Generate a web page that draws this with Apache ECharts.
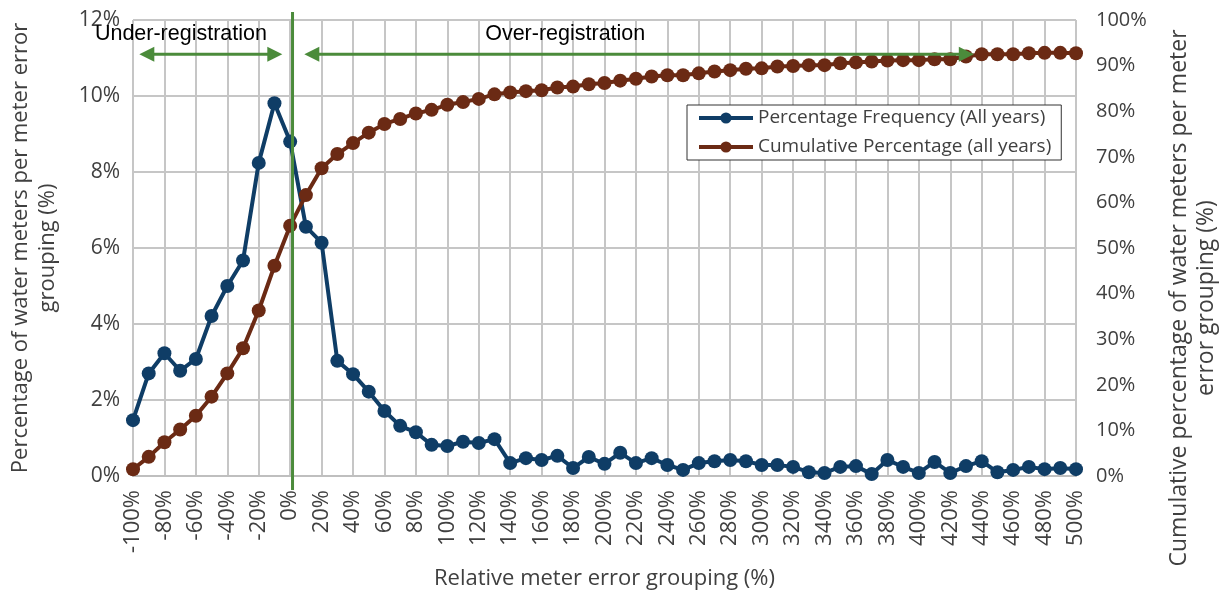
<!DOCTYPE html>
<html>
<head>
<meta charset="utf-8">
<script src="https://cdn.jsdelivr.net/npm/echarts/dist/echarts.min.js"></script>
<style>
  html, body { margin: 0; padding: 0; background: #fff; }
  #chartDom { width: 1226px; height: 591px; }
</style>
</head>
<body>
<div id="chartDom"></div>
<script>
// categories: relative meter error grouping
var categories = ['-100%', '-90%', '-80%', '-70%', '-60%', '-50%', '-40%', '-30%', '-20%', '-10%',
  '0%', '10%', '20%', '30%', '40%', '50%', '60%', '70%', '80%', '90%',
  '100%', '110%', '120%', '130%', '140%', '150%', '160%', '170%', '180%', '190%',
  '200%', '210%', '220%', '230%', '240%', '250%', '260%', '270%', '280%', '290%',
  '300%', '310%', '320%', '330%', '340%', '350%', '360%', '370%', '380%', '390%',
  '400%', '410%', '420%', '430%', '440%', '450%', '460%', '470%', '480%', '490%', '500%'];

// Percentage Frequency (All years), left axis
var freqAll = [1.47, 2.70, 3.23, 2.77, 3.08, 4.21, 5.00, 5.67, 8.24, 9.81,
  8.80, 6.56, 6.14, 3.03, 2.68, 2.22, 1.71, 1.32, 1.15, 0.82,
  0.79, 0.90, 0.87, 0.97, 0.34, 0.47, 0.42, 0.53, 0.21, 0.50,
  0.32, 0.61, 0.34, 0.47, 0.29, 0.16, 0.34, 0.39, 0.42, 0.39,
  0.29, 0.29, 0.24, 0.10, 0.08, 0.24, 0.26, 0.05, 0.42, 0.24,
  0.08, 0.37, 0.08, 0.26, 0.39, 0.10, 0.16, 0.24, 0.18, 0.21, 0.18];

// Cumulative Percentage (all years), right axis
var cumAll = [1.47, 4.2, 7.4, 10.2, 13.2, 17.4, 22.5, 28.0, 36.3, 46.1,
  54.9, 61.6, 67.5, 70.6, 73.0, 75.3, 77.2, 78.3, 79.5, 80.3,
  81.4, 82.0, 82.7, 83.7, 84.1, 84.4, 84.6, 85.2, 85.4, 85.9,
  86.2, 86.7, 87.1, 87.6, 87.9, 87.9, 88.3, 88.7, 89.0, 89.3,
  89.4, 89.8, 89.9, 90.1, 90.1, 90.5, 90.7, 90.9, 91.1, 91.2,
  91.2, 91.4, 91.4, 92.0, 92.5, 92.5, 92.5, 92.7, 92.8, 92.8, 92.7];

// tick settings
var leftTicks = { min: 0, max: 12, interval: 2 };
var rightTicks = { min: 0, max: 100, interval: 10 };

var fontMain = '"Open Sans", "Noto Sans", sans-serif';
var green = '#4b8b3b';

var chartDom = document.getElementById('chartDom');
var myChart = echarts.init(chartDom);
var option = {
  animation: false,
  grid: { left: 133, right: 150, top: 20, bottom: 115, outerBoundsMode: 'none' },
  legend: {
    orient: 'vertical',
    left: 687,
    top: 105,
    padding: [3, 10, 3, 10],
    itemGap: 9,
    itemWidth: 54,
    itemHeight: 14,
    lineStyle: { width: 4 },
    borderColor: '#333',
    borderWidth: 1,
    backgroundColor: '#fff',
    textStyle: { fontFamily: fontMain, fontSize: 19, lineHeight: 20, color: '#404040' },
    data: ['Percentage Frequency (All years)', 'Cumulative Percentage (all years)']
  },
  xAxis: {
    type: 'category',
    boundaryGap: false,
    data: categories,
    name: 'Relative meter error grouping (%)',
    nameLocation: 'middle',
    nameGap: 92,
    nameTextStyle: { fontFamily: fontMain, fontSize: 22, color: '#404040' },
    axisLine: { lineStyle: { color: '#bfbfbf', width: 2 } },
    axisTick: { show: false },
    axisLabel: {
      interval: 1, rotate: 90, margin: 14,
      fontFamily: fontMain, fontSize: 22, color: '#404040'
    },
    splitLine: { show: true, interval: 1, lineStyle: { color: '#c6c6c6', width: 2 } }
  },
  yAxis: [
    {
      type: 'value',
      min: leftTicks.min, max: leftTicks.max, interval: leftTicks.interval,
      name: 'Percentage of water meters per meter error\ngrouping (%)',
      nameLocation: 'middle',
      nameGap: 72,
      nameTextStyle: { fontFamily: fontMain, fontSize: 22, color: '#404040', lineHeight: 27 },
      axisLine: { show: false },
      axisTick: { show: false },
      axisLabel: { formatter: '{value}%', margin: 13, fontFamily: fontMain, fontSize: 21, color: '#404040' },
      splitLine: { lineStyle: { color: '#c6c6c6', width: 2 } }
    },
    {
      type: 'value',
      min: rightTicks.min, max: rightTicks.max, interval: rightTicks.interval,
      name: 'Cumulative percentage of water meters per meter\nerror grouping (%)',
      nameLocation: 'middle',
      nameGap: 90,
      nameTextStyle: { fontFamily: fontMain, fontSize: 23, color: '#404040', lineHeight: 27, padding: [0, 100, 0, 0] },
      axisLine: { show: false },
      axisTick: { show: false },
      axisLabel: { formatter: '{value}%', margin: 20, fontFamily: fontMain, fontSize: 20, color: '#404040' },
      splitLine: { show: false }
    }
  ],
  series: [
    {
      name: 'Percentage Frequency (All years)',
      type: 'line',
      yAxisIndex: 0,
      data: freqAll,
      symbol: 'circle',
      symbolSize: 14,
      showAllSymbol: true,
      lineStyle: { color: '#0f3d66', width: 4 },
      itemStyle: { color: '#0f3d66' }
    },
    {
      name: 'Cumulative Percentage (all years)',
      type: 'line',
      yAxisIndex: 1,
      data: cumAll,
      symbol: 'circle',
      symbolSize: 14,
      showAllSymbol: true,
      lineStyle: { color: '#6b2a14', width: 4 },
      itemStyle: { color: '#6b2a14' }
    }
  ]
};
option && myChart.setOption(option);

// annotations: divider at 0% and the two arrows, placed through the axes
var x0 = myChart.convertToPixel({ xAxisIndex: 0 }, categories[0]);
var x1 = myChart.convertToPixel({ xAxisIndex: 0 }, categories[categories.length - 1]);
var step = (x1 - x0) / (categories.length - 1);
function px(idx) { return x0 + idx * step; }
function py(v) { return myChart.convertToPixel({ yAxisIndex: 0 }, v); }

function arrow(a, b, y) {
  var h = 15, w = 7.5;
  return [
    { type: 'line', shape: { x1: a + h - 2, y1: y, x2: b - h + 2, y2: y }, style: { stroke: green, lineWidth: 3 }, z: 20 },
    { type: 'polygon', shape: { points: [[a, y], [a + h, y - w], [a + h, y + w]] }, style: { fill: green }, z: 20 },
    { type: 'polygon', shape: { points: [[b, y], [b - h, y - w], [b - h, y + w]] }, style: { fill: green }, z: 20 }
  ];
}

var arrowY = py(11.1);
var textY = py(11.63);
var divX = px(10.15);
var annFont = '21.5px "Liberation Sans", Arial, sans-serif';
var elements = [
  { type: 'line', shape: { x1: divX, y1: py(12) - 8, x2: divX, y2: py(0) + 14 }, style: { stroke: green, lineWidth: 3 }, z: 20 },
  { type: 'text', x: px(3.05), y: textY, style: { text: 'Under-registration', font: annFont, fill: '#000', align: 'center', verticalAlign: 'middle' }, z: 21 },
  { type: 'text', x: px(27.5), y: textY, style: { text: 'Over-registration', font: annFont, fill: '#000', align: 'center', verticalAlign: 'middle' }, z: 21 }
];
elements = elements.concat(arrow(px(0.4), px(9.5), arrowY), arrow(px(10.9), px(53.5), arrowY));
myChart.setOption({ graphic: elements });

window.addEventListener('resize', function () { myChart.resize(); });
</script>
</body>
</html>
